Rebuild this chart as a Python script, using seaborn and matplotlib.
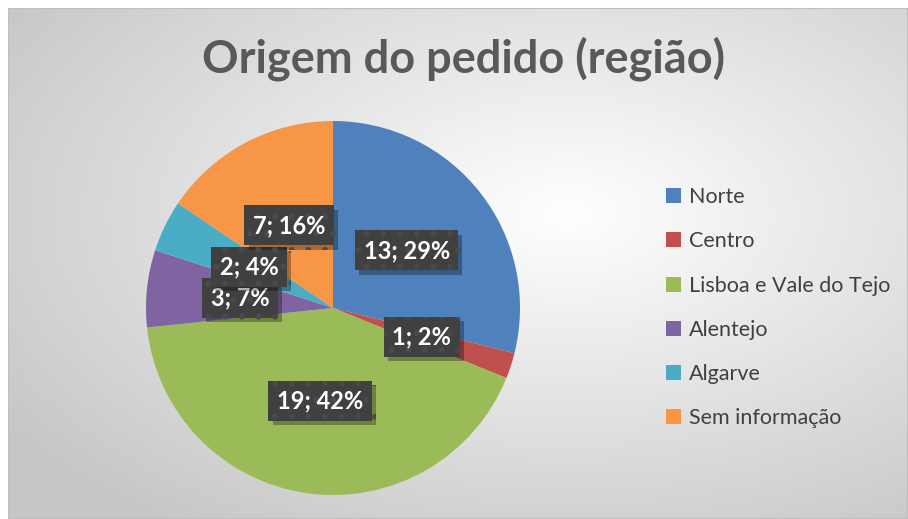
import numpy as np
import matplotlib
matplotlib.use("Agg")
import matplotlib.pyplot as plt
import matplotlib.patheffects as pe
from matplotlib.patches import Rectangle
import seaborn as sns

categories = ["Norte", "Centro", "Lisboa e Vale do Tejo", "Alentejo", "Algarve", "Sem informação"]
values = [13, 1, 19, 3, 2, 7]
colors = ["#4F81BD", "#C0504D", "#9BBB59", "#8064A2", "#4BACC6", "#F79646"]
title = "Origem do pedido (região)"

sns.set_style("white")
plt.rcParams["font.family"] = ["Lato", "DejaVu Sans"]
plt.rcParams["hatch.linewidth"] = 1.8
palette = sns.color_palette(colors)

W, H = 908, 519
fig = plt.figure(figsize=(W / 100, H / 100), dpi=100)
fig.patch.set_facecolor("white")

# background frame with radial gradient
bg = fig.add_axes([8 / W, 0, (W - 8) / W, (H - 8) / H])
bg.set_axis_off()
yy, xx = np.mgrid[0:200, 0:350]
cx, cy = 0.62 * 350, 0.40 * 200
d = np.sqrt(((xx - cx) / 350) ** 2 + ((yy - cy) / 200) ** 2)
d = np.clip(d / 0.75, 0, 1)
grad = 1.0 - 0.22 * d
bg.imshow(np.dstack([grad, grad, grad]), aspect="auto", extent=[0, 1, 0, 1], origin="upper")
bg.add_patch(Rectangle((0, 0), 1, 1, transform=bg.transAxes, fill=False, edgecolor="#BFBFBF", lw=1.5))
bg.set_xlim(0, 1)
bg.set_ylim(0, 1)

# pie
R = 187
ax = fig.add_axes([(333 - R) / W, (H - 308 - R) / H, 2 * R / W, 2 * R / H])
total = sum(values)
wedges, texts, autotexts = ax.pie(
    values, colors=palette, startangle=90, counterclock=False,
    autopct=lambda p: f"{int(round(p * total / 100))}; {p:.0f}%",
    pctdistance=0.5, radius=1.0,
    wedgeprops=dict(linewidth=0),
    textprops=dict(color="white", fontsize=17, fontweight="bold"),
)
ax.set_xlim(-1, 1)
ax.set_ylim(-1, 1)
ax.set_aspect("equal")
ax.set_axis_off()

for t in autotexts:
    t.set_bbox(dict(boxstyle="square,pad=0.36", facecolor="#404040", edgecolor="#4A4A4A",
                    hatch=".", linewidth=0))
    t.get_bbox_patch().set_path_effects([
        pe.SimplePatchShadow(offset=(3, -3), shadow_rgbFace="#000000", alpha=0.3),
        pe.Normal()])

fig.text(463 / W, 1 - 59 / H, title, ha="center", va="center", fontsize=32.5,
         fontweight="bold", color="#595959")

leg = fig.legend(wedges, categories, loc="upper left", bbox_to_anchor=(647 / W, 1 - 168 / H),
                 frameon=False, fontsize=15.5, handlelength=0.7, handleheight=0.7,
                 handletextpad=0.35, labelspacing=1.12, labelcolor="#404040")

fig.savefig("out.png", dpi=100)
